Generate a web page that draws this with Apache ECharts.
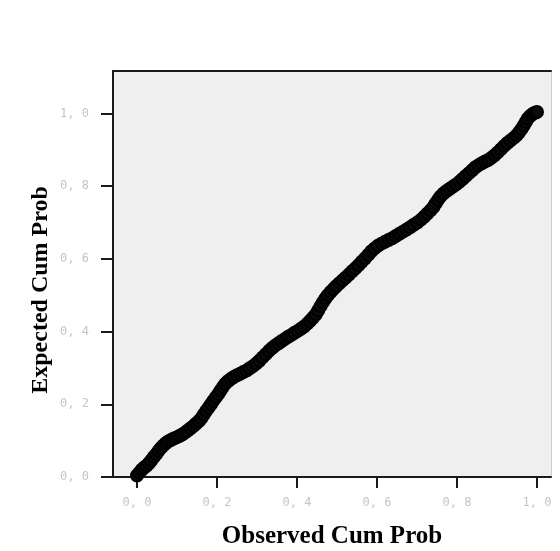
<!DOCTYPE html>
<html>
<head>
<meta charset="utf-8">
<script src="https://cdn.jsdelivr.net/npm/echarts@6/dist/echarts.min.js"></script>
<style>
html,body{margin:0;padding:0;background:#fff;}
#chart{width:560px;height:551px;}
</style>
</head>
<body>
<div id="chart"></div>
<script>
// Observed cumulative probability (x) and expected cumulative probability (y)
var observedCumProb = [
0.000,0.006,0.012,0.018,0.024,0.030,0.036,0.042,0.048,0.054,0.060,0.066,0.072,0.078,0.085,0.092,0.099,0.106,0.113,0.120,
0.127,0.134,0.141,0.148,0.155,0.161,0.167,0.173,0.179,0.185,0.191,0.197,0.203,0.209,0.215,0.221,0.228,0.235,0.242,0.250,
0.258,0.266,0.274,0.282,0.290,0.298,0.306,0.314,0.322,0.330,0.338,0.346,0.354,0.362,0.370,0.378,0.386,0.394,0.402,0.410,
0.418,0.426,0.433,0.440,0.447,0.453,0.459,0.465,0.471,0.477,0.484,0.491,0.498,0.506,0.514,0.522,0.530,0.538,0.546,0.554,
0.562,0.570,0.578,0.586,0.594,0.602,0.611,0.620,0.629,0.638,0.647,0.656,0.665,0.674,0.683,0.692,0.701,0.710,0.718,0.726,
0.734,0.741,0.747,0.753,0.759,0.766,0.774,0.782,0.790,0.798,0.806,0.814,0.822,0.830,0.838,0.846,0.854,0.862,0.870,0.878,
0.886,0.894,0.902,0.910,0.918,0.926,0.934,0.942,0.949,0.955,0.961,0.967,0.972,0.977,0.983,0.989,0.995,1.000
];
var expectedCumProb = [
0.004,0.012,0.020,0.026,0.031,0.038,0.046,0.055,0.063,0.072,0.080,0.087,0.093,0.098,0.102,0.106,0.109,0.113,0.117,0.122,
0.128,0.134,0.140,0.147,0.154,0.162,0.172,0.182,0.191,0.200,0.210,0.219,0.228,0.238,0.248,0.257,0.264,0.270,0.275,0.280,
0.284,0.289,0.293,0.299,0.305,0.312,0.320,0.329,0.338,0.347,0.355,0.362,0.368,0.374,0.380,0.386,0.391,0.397,0.402,0.408,
0.414,0.422,0.430,0.438,0.447,0.458,0.470,0.481,0.491,0.500,0.509,0.517,0.525,0.533,0.541,0.549,0.557,0.566,0.574,0.583,
0.592,0.601,0.611,0.621,0.629,0.636,0.642,0.647,0.652,0.657,0.663,0.669,0.675,0.681,0.687,0.694,0.700,0.708,0.716,0.725,
0.734,0.743,0.753,0.763,0.772,0.780,0.787,0.793,0.799,0.805,0.812,0.820,0.828,0.836,0.844,0.852,0.858,0.863,0.868,0.872,
0.878,0.885,0.893,0.902,0.911,0.919,0.926,0.933,0.940,0.948,0.957,0.967,0.977,0.986,0.993,0.999,1.002,1.004
];
var tickValues = [0, 0.2, 0.4, 0.6, 0.8, 1.0];
var xTitle = 'Observed Cum Prob';
var yTitle = 'Expected Cum Prob';

var points = observedCumProb.map(function (x, i) { return [x, expectedCumProb[i]]; });
function fmt(v) { return v.toFixed(1).replace('.', ', '); }

var labelStyle = { color: '#c4c4c4', fontFamily: 'DejaVu Sans Mono', fontSize: 12 };

var chart = echarts.init(document.getElementById('chart'));
chart.setOption({
  animation: false,
  backgroundColor: '#ffffff',
  grid: { left: 113, top: 71, right: 9, bottom: 74, show: true, backgroundColor: '#efefef', borderWidth: 0 },
  xAxis: [{
    type: 'value', min: -0.06, max: 1.035,
    splitLine: { show: false },
    axisLine: { show: true, onZero: false, lineStyle: { color: '#1a1a1a', width: 2 } },
    axisTick: { show: true, length: 11, customValues: tickValues, lineStyle: { color: '#1a1a1a', width: 2 } },
    axisLabel: Object.assign({ customValues: tickValues, formatter: fmt, margin: 20 }, labelStyle)
  }, {
    type: 'value', position: 'top', min: -0.06, max: 1.035,
    splitLine: { show: false },
    axisLine: { show: true, onZero: false, lineStyle: { color: '#1a1a1a', width: 2 } },
    axisTick: { show: false }, axisLabel: { show: false }
  }],
  yAxis: [{
    type: 'value', min: 0, max: 1.117,
    splitLine: { show: false },
    axisLine: { show: true, onZero: false, lineStyle: { color: '#1a1a1a', width: 2 } },
    axisTick: { show: true, length: 12, customValues: tickValues, lineStyle: { color: '#1a1a1a', width: 2 } },
    axisLabel: Object.assign({ customValues: tickValues, formatter: fmt, margin: 24 }, labelStyle)
  }, {
    type: 'value', position: 'right', min: 0, max: 1.117,
    splitLine: { show: false },
    axisLine: { show: true, onZero: false, lineStyle: { color: '#cfcfcf', width: 1 } },
    axisTick: { show: false }, axisLabel: { show: false }
  }],
  graphic: [{
    type: 'text', x: 332, y: 537,
    style: { text: xTitle, x: 0, y: 0, align: 'center', verticalAlign: 'middle',
      font: 'bold 25px "Liberation Serif"', fill: '#000' }
  }, {
    type: 'text', x: 41, y: 290, rotation: Math.PI / 2,
    style: { text: yTitle, x: 0, y: 0, align: 'center', verticalAlign: 'middle',
      font: 'bold 24px "Liberation Serif"', fill: '#000' }
  }],
  series: [{
    type: 'scatter',
    xAxisIndex: 0, yAxisIndex: 0,
    data: points,
    symbol: 'circle',
    symbolSize: 12,
    itemStyle: { color: '#0a0a0a', borderColor: '#000', borderWidth: 2, opacity: 1 }
  }]
});
</script>
</body>
</html>
